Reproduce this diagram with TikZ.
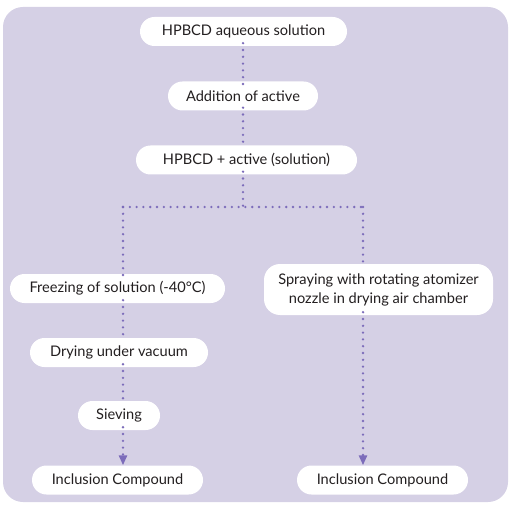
\documentclass[tikz,border=0pt]{standalone}
\usepackage{fontspec}
\setmainfont{Lato}
\usetikzlibrary{arrows.meta}
\definecolor{bgc}{RGB}{213,208,229}
\definecolor{linec}{RGB}{124,108,186}
\definecolor{txtc}{RGB}{35,31,32}
\tikzset{
  pill/.style={fill=white, rounded corners=14.5pt, minimum height=29pt, inner xsep=0pt, inner ysep=0pt, text=txtc, font=\fontsize{14.6}{19}\selectfont, align=center},
  dotline/.style={linec, line width=2.6pt, line cap=round, dash pattern=on 0pt off 6.8pt},
  dotarrow/.style={dotline, -{Triangle[length=10pt,width=8pt,line cap=butt,sep=0pt]}},
}
\begin{document}
\begin{tikzpicture}[x=1pt,y=-1pt]
\useasboundingbox (0,0) rectangle (518,510);
\fill[bgc, rounded corners=20pt] (3,7) rectangle (508,502);
\node[pill, minimum width=207pt] (n1) at (243.5,31.5) {HPBCD aqueous solution};
\node[pill, minimum width=150pt] (n2) at (243,96) {Addition of active};
\node[pill, minimum width=221pt] (n3) at (246.5,160) {HPBCD + active (solution)};
\node[pill, minimum width=215pt] (n4) at (117.5,288.5) {Freezing of solution (-40°C)};
\node[pill, minimum width=178pt] (n5) at (119,352.5) {Drying under vacuum};
\node[pill, minimum width=82pt] (n6) at (119,415.5) {Sieving};
\node[pill, minimum width=171pt] (n7) at (117.5,480) {Inclusion Compound};
\node[pill, minimum width=229pt, minimum height=51pt, rounded corners=16pt] (n8) at (378.5,289.5) {Spraying with rotating atomizer\\nozzle in drying air chamber};
\node[pill, minimum width=171pt] (n9) at (382.5,480) {Inclusion Compound};
\coordinate (b) at (243,207);
\coordinate (bl) at (123,207);
\coordinate (br) at (363,207);
\draw[dotline] ([yshift=3pt]n1.south -| b) -- ([yshift=-3pt]n2.north -| b);
\draw[dotline] ([yshift=3pt]n2.south -| b) -- ([yshift=-3pt]n3.north -| b);
\draw[dotline] ([yshift=3pt]n3.south -| b) -- (b);
\draw[dotline] (bl) -- (br);
\draw[dotline] (bl) -- ([yshift=-3pt]n4.north -| bl);
\draw[dotline] (br) -- ([yshift=-3pt]n8.north -| br);
\draw[dotline] ([yshift=3pt]n4.south -| bl) -- ([yshift=-3pt]n5.north -| bl);
\draw[dotline] ([yshift=3pt]n5.south -| bl) -- ([yshift=-3pt]n6.north -| bl);
\draw[dotarrow] ([yshift=3pt]n6.south -| bl) -- (n7.north -| bl);
\draw[dotarrow] ([yshift=3pt]n8.south -| br) -- (n9.north -| br);
\end{tikzpicture}
\end{document}
